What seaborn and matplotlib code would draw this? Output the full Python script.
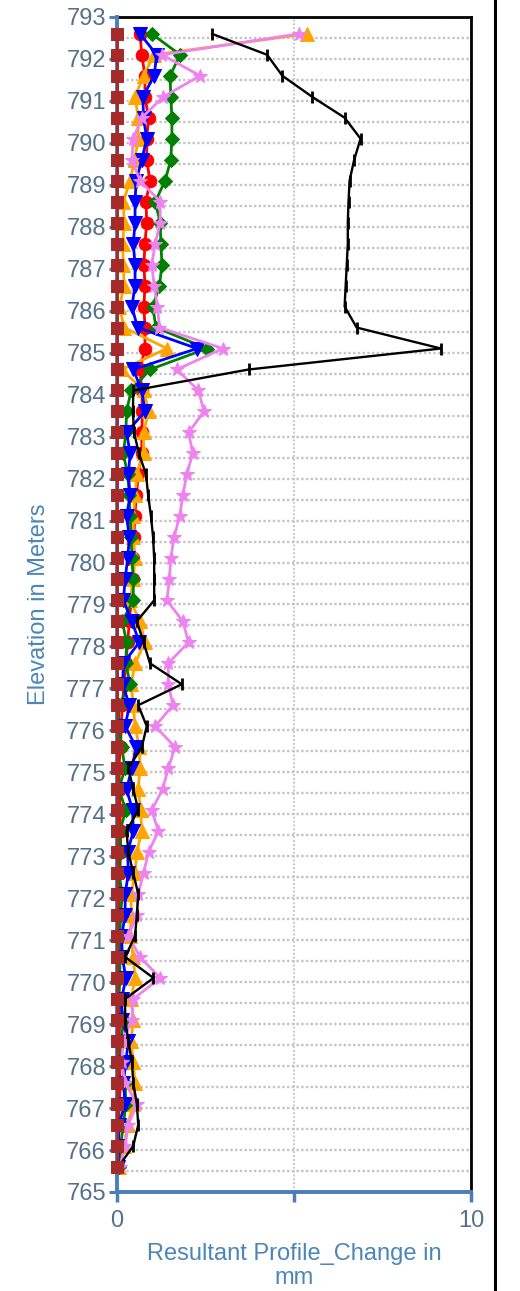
import matplotlib
matplotlib.use("Agg")
import matplotlib.pyplot as plt
import seaborn as sns
import pandas as pd
from matplotlib.lines import Line2D
from matplotlib.ticker import MultipleLocator

# ---------------- data ----------------
elevation = [792.6, 792.1, 791.6, 791.1, 790.6, 790.1, 789.6, 789.1, 788.6, 788.1,
             787.6, 787.1, 786.6, 786.1, 785.6, 785.1, 784.6, 784.1, 783.6, 783.1,
             782.6, 782.1, 781.6, 781.1, 780.6, 780.1, 779.6, 779.1, 778.6, 778.1,
             777.6, 777.1, 776.6, 776.1, 775.6, 775.1, 774.6, 774.1, 773.6, 773.1,
             772.6, 772.1, 771.6, 771.1, 770.6, 770.1, 769.6, 769.1, 768.6, 768.1,
             767.6, 767.1, 766.6, 766.1, 765.6]

brown = [0, 0, 0, 0, 0, 0, 0, 0, 0, 0, 0, 0, 0, 0, 0, 0, 0, 0, 0, 0,
         0, 0, 0, 0, 0, 0, 0, 0, 0, 0, 0, 0, 0, 0, 0, 0, 0, 0, 0, 0,
         0, 0, 0, 0, 0, 0, 0, 0, 0, 0, 0, 0, 0, 0, 0]

red = [0.65, 0.70, 0.79, 0.79, 0.89, 0.84, 0.84, 0.93, 0.82, 0.84,
       0.79, 0.76, 0.79, 0.76, 0.79, 0.79, 0.65, 0.70, 0.72, 0.70,
       0.70, 0.60, 0.55, 0.50, 0.48, 0.46, 0.46, 0.40, 0.35, 0.30,
       0.25, 0.20, 0.15, 0.12, 0.10, 0.05, 0.08, 0.08, 0.10, 0.10,
       0.08, 0.06, 0.06, 0.05, 0.05, 0.06, 0.05, 0.08, 0.06, 0.05,
       0.10, 0.06, 0.05, 0.04, 0.03]

orange = [5.37, 1.05, 0.75, 0.51, 0.60, 0.60, 0.50, 0.37, 0.18, 0.20,
          0.16, 0.18, 0.20, 0.07, 0.20, 1.41, 0.13, 0.76, 0.89, 0.75,
          0.75, 0.56, 0.51, 0.46, 0.46, 0.51, 0.46, 0.37, 0.65, 0.79,
          0.51, 0.40, 0.46, 0.51, 0.63, 0.65, 0.60, 0.67, 0.70, 0.56,
          0.51, 0.40, 0.40, 0.37, 0.46, 0.51, 0.40, 0.46, 0.40, 0.46,
          0.51, 0.46, 0.30, 0.20, 0.05]

green = [0.98, 1.78, 1.50, 1.52, 1.55, 1.55, 1.52, 1.36, 1.08, 1.22,
         1.24, 1.27, 1.20, 1.01, 1.10, 2.54, 0.93, 0.40, 0.27, 0.25,
         0.18, 0.30, 0.35, 0.37, 0.40, 0.42, 0.46, 0.46, 0.15, 0.27,
         0.25, 0.37, 0.05, 0.05, 0.13, 0.23, 0.05, 0.25, 0.08, 0.10,
         0.05, 0.15, 0.10, 0.08, 0.08, 0.08, 0.05, 0.20, 0.10, 0.12,
         0.23, 0.25, 0.18, 0.10, 0.05]

blue = [0.65, 1.12, 1.05, 0.73, 0.75, 0.84, 0.70, 0.54, 0.51, 0.51,
        0.46, 0.51, 0.51, 0.42, 0.58, 2.26, 0.46, 0.70, 0.79, 0.27,
        0.37, 0.32, 0.37, 0.27, 0.35, 0.30, 0.23, 0.18, 0.42, 0.63,
        0.18, 0.16, 0.35, 0.23, 0.54, 0.42, 0.27, 0.44, 0.46, 0.30,
        0.32, 0.23, 0.23, 0.13, 0.15, 0.25, 0.13, 0.15, 0.32, 0.25,
        0.18, 0.23, 0.05, 0.05, 0.02]

pink = [5.14, 1.27, 2.35, 1.31, 0.70, 0.46, 0.42, 0.65, 1.22, 1.22,
        1.08, 0.98, 1.05, 1.14, 1.20, 2.99, 1.69, 2.30, 2.46, 2.02,
        2.14, 1.97, 1.86, 1.77, 1.61, 1.52, 1.48, 1.41, 1.86, 2.02,
        1.45, 1.45, 1.58, 1.08, 1.64, 1.45, 1.29, 0.98, 1.17, 0.89,
        0.75, 0.60, 0.56, 0.32, 0.65, 1.22, 0.46, 0.42, 0.18, 0.13,
        0.23, 0.56, 0.32, 0.23, 0.08]

black = [2.68, 4.24, 4.67, 5.51, 6.43, 6.88, 6.70, 6.57, 6.54, 6.52,
         6.52, 6.49, 6.46, 6.43, 6.77, 9.15, 3.72, 0.46, 0.45, 0.48,
         0.62, 0.82, 0.88, 0.96, 1.02, 1.05, 1.05, 1.05, 0.56, 0.75,
         0.93, 1.83, 0.60, 0.84, 0.70, 0.32, 0.46, 0.60, 0.27, 0.32,
         0.46, 0.60, 0.56, 0.51, 0.23, 1.03, 0.23, 0.23, 0.32, 0.42,
         0.46, 0.56, 0.60, 0.46, 0.04]

x_ticks = [0, 5, 10]
x_tick_labels = ["0", "", "10"]
y_ticks = list(range(765, 794))

# ---------------- style ----------------
sns.set_style("white")
plt.rcParams["font.family"] = ["Liberation Sans", "DejaVu Sans"]

SPINE_BLUE = "#4A7EBB"
TICK_TEXT = "#54708A"
LABEL_BLUE = "#4A86B8"

fig = plt.figure(figsize=(5.2, 12.91), dpi=100)
ax = fig.add_axes([117 / 520, 1 - 1192 / 1291, (471 - 117) / 520, (1192 - 17) / 1291])

series = [
    (brown, "#A52A2A", "s", 9, 2.0, dict(clip_on=False)),
    (red, "#FF0000", "o", 9, 2.0, {}),
    (orange, "#FFA500", "^", 10, 2.0, {}),
    (green, "#008000", "D", 7.5, 2.0, {}),
    (blue, "#0000FF", "v", 10, 2.0, {}),
    (pink, "#EE82EE", "*", 10, 2.0, {}),
    (black, "#000000", "|", 9, 1.7, dict(markeredgewidth=2)),
]

for vals, col, mk, ms, lw, extra in series:
    df = pd.DataFrame({"x": vals, "y": elevation})
    sns.lineplot(data=df, x="x", y="y", ax=ax, sort=False, estimator=None,
                 orient="y", color=col, marker=mk, markersize=ms,
                 markeredgecolor=col, markerfacecolor=col, linewidth=lw, **extra)

ax.lines[0].set_zorder(3.5)

ax.set_xlim(0, 10)
ax.set_ylim(765, 793)
ax.set_xticks(x_ticks)
ax.set_xticklabels(x_tick_labels)
ax.set_yticks(y_ticks)
ax.yaxis.set_minor_locator(MultipleLocator(0.5))

ax.set_axisbelow(True)
ax.grid(False)
ax.yaxis.grid(True, which="both", color="#C4C4C4", linestyle=(0, (1, 1)), linewidth=1.7)
ax.xaxis.grid(True, which="major", color="#C8C8C8", linestyle=(0, (1, 1)), linewidth=1.4)

for side in ["left", "bottom"]:
    ax.spines[side].set_color(SPINE_BLUE)
    ax.spines[side].set_linewidth(2.8)
for side in ["top", "right"]:
    ax.spines[side].set_color("black")
    ax.spines[side].set_linewidth(2.0)
    ax.spines[side].set_zorder(1.5)

ax.tick_params(axis="y", which="major", direction="out", length=6, width=2.2,
               color=SPINE_BLUE, labelcolor=TICK_TEXT, labelsize=17, pad=2, left=True)
ax.tick_params(axis="y", which="minor", length=0, left=False)
ax.tick_params(axis="x", which="major", direction="out", length=7, width=2.5,
               color=SPINE_BLUE, labelcolor=TICK_TEXT, labelsize=17, pad=6, bottom=True)

ax.set_ylabel("Elevation in Meters", fontsize=17, color=LABEL_BLUE)
ax.set_xlabel("Resultant Profile_Change in\nmm", fontsize=17, color=LABEL_BLUE, linespacing=1.15)
ax.yaxis.set_label_coords(-0.19, 0.5)
ax.xaxis.set_label_coords(0.5, -0.043)

# outer frame line at the right side of the figure
fig.add_artist(Line2D([495 / 520, 495 / 520], [0, 1], color="black", linewidth=2.2,
                      transform=fig.transFigure))

fig.savefig("out.png", dpi=100, facecolor="white")
